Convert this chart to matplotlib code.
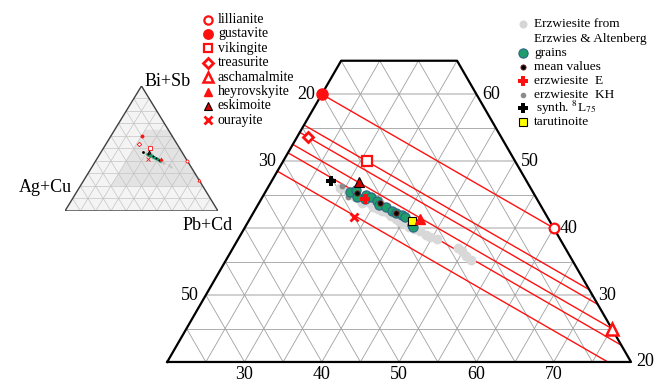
import numpy as np
import matplotlib.pyplot as plt

W, H = 658, 382
plt.rcParams['font.family'] = ['Liberation Serif', 'DejaVu Serif']
plt.rcParams['mathtext.fontset'] = 'stix'

# compositions in at.%: Bi+Sb and Pb+Cd (Ag+Cu is the remainder)
erz_bi = [46.0, 45.4, 45.0, 44.6, 43.8, 43.7, 44.0, 43.2, 42.8, 42.5, 42.2, 41.8,
          41.4, 41.0, 40.7, 40.2, 39.8, 39.5, 39.0, 38.7, 38.3, 37.1, 36.6, 35.9, 35.3]
erz_pb = [29.3, 30.7, 31.5, 32.0, 33.3, 34.4, 34.0, 35.0, 35.9, 36.5, 37.4, 38.0,
          38.9, 39.5, 40.3, 41.2, 42.0, 43.0, 44.0, 44.6, 45.8, 49.1, 49.8, 50.7, 51.6]

grain_bi = [45.4, 45.7, 44.6, 45.0, 44.3, 44.6, 44.0, 43.5, 43.1, 42.6, 42.3, 41.9, 41.6, 40.5, 40.1]
grain_pb = [30.9, 31.6, 32.2, 33.2, 33.5, 34.0, 35.1, 35.7, 36.7, 37.8, 38.5, 39.4, 40.0, 41.4, 41.8]

mean_bi = [45.3, 43.7, 42.3, 41.0]
mean_pb = [31.9, 35.7, 38.5, 41.0]

kh_bi = [46.3, 44.6, 45.3]
kh_pb = [29.5, 31.1, 31.3]

erzE_bi, erzE_pb = [44.4], [33.4]
synth_bi, synth_pb = [47.1], [27.7]
taru_bi, taru_pb = [41.1], [41.1]

mineral_names = ['lillianite', 'gustavite', 'vikingite', 'treasurite',
                 'aschamalmite', 'heyrovskyite', 'eskimoite', 'ourayite']
mineral_bi = [40.0, 60.0, 50.0, 53.6, 25.0, 41.4, 46.9, 41.7]
mineral_pb = [60.0, 20.0, 30.8, 21.4, 75.0, 42.0, 31.3, 33.3]

# Bi+Sb of the Pb-Bi end member of each homologue line
line_a0 = [40.0, 30.8, 28.6, 25.0, 22.5, 17.0]

left_ticks = [20, 30, 50]          # Ag+Cu
right_ticks = [20, 30, 40, 50, 60]  # Bi+Sb
bottom_ticks = [30, 40, 50, 60, 70]  # Pb+Cd

RED = '#ff1010'
styles = {
    'lillianite': dict(marker='o', mfc='white', mec=RED, ms=7, mew=1.6),
    'gustavite': dict(marker='o', mfc=RED, mec=RED, ms=8, mew=1),
    'vikingite': dict(marker='s', mfc='white', mec=RED, ms=6.5, mew=1.6),
    'treasurite': dict(marker='D', mfc='white', mec=RED, ms=5.5, mew=2),
    'aschamalmite': dict(marker='^', mfc='white', mec=RED, ms=8, mew=1.8),
    'heyrovskyite': dict(marker='^', mfc=RED, mec=RED, ms=7, mew=1),
    'eskimoite': dict(marker='^', mfc='#d00000', mec='black', ms=7, mew=0.8),
    'ourayite': dict(marker='x', mfc=RED, mec=RED, ms=6, mew=2),
}


def tern(bi, pb):
    bi = np.asarray(bi, float)
    pb = np.asarray(pb, float)
    return pb + bi / 2, bi * np.sqrt(3) / 2


fig = plt.figure(figsize=(W / 100, H / 100), dpi=100)
ax = fig.add_axes([0, 0, 1, 1])
ax.set_xlim(8.37, 93.49)
ax.set_ylim(14.73, 64.15)
ax.axis('off')

# grid
for a in range(25, 65, 5):
    x, y = tern([a, a], [20, 100 - a])
    if a % 10 == 0:
        ax.plot(x, y, color='#d0d0d0', lw=1.4, zorder=1)
    else:
        ax.plot(x, y, color='#a0a0a0', lw=0.6, zorder=1)
for c in range(25, 80, 5):
    top = min(65, 100 - c)
    x, y = tern([20, top], [c, c])
    ax.plot(x, y, color='#a0a0a0', lw=0.6, zorder=1)
for b in range(5, 60, 5):
    top = min(65, 80 - b)
    x, y = tern([20, top], [80 - b, 100 - top - b])
    ax.plot(x, y, color='#a0a0a0', lw=0.6, zorder=1)

# homologue lines
for a0 in line_a0:
    a1 = 40 + a0 / 2
    if a0 >= 20:
        x, y = tern([a1, a0], [20, 100 - a0])
    else:
        x, y = tern([a1, 20], [20, 60 + a0])
    ax.plot(x, y, color=RED, lw=1.0, zorder=2)

# outline
x, y = tern([20, 65, 65, 20, 20], [20, 20, 35, 80, 20])
ax.plot(x, y, color='black', lw=1.6, zorder=3, solid_capstyle='projecting')

# tick labels
for b in left_ticks:
    x, y = tern(80 - b, 20)
    ax.annotate(str(b), (x, y), xytext=(-5, 0), textcoords='offset points',
                ha='right', va='center', fontsize=13)
for a in right_ticks:
    x, y = tern(a, 100 - a)
    ax.annotate(str(a), (x, y), xytext=(4, 0), textcoords='offset points',
                ha='left', va='center', fontsize=13)
for c in bottom_ticks:
    x, y = tern(20, c)
    ax.annotate(str(c), (x, y), xytext=(0, -3), textcoords='offset points',
                ha='center', va='top', fontsize=13)

# data
x, y = tern(erz_bi, erz_pb)
ax.scatter(x, y, s=50, color='#d8d8d8', lw=0, zorder=4)
x, y = tern(kh_bi, kh_pb)
ax.scatter(x, y, s=18, color='#8a8a8a', lw=0, zorder=5)
x, y = tern(grain_bi, grain_pb)
ax.scatter(x, y, s=44, color='#1f9e6c', edgecolors='#2d6486', lw=0.8, zorder=5)
x, y = tern(mean_bi, mean_pb)
ax.scatter(x, y, s=14, color='black', edgecolors='#7a1a1a', lw=0.6, zorder=6)
x, y = tern(erzE_bi, erzE_pb)
ax.plot(x, y, marker='P', color=RED, ms=7, mew=0, ls='none', zorder=7)
x, y = tern(synth_bi, synth_pb)
ax.plot(x, y, marker='P', color='black', ms=7, mew=0, ls='none', zorder=7)
x, y = tern(taru_bi, taru_pb)
ax.plot(x, y, marker='s', mfc='#ffff00', mec='black', ms=5.5, mew=0.8, ls='none', zorder=8)

for name, bi, pb in zip(mineral_names, mineral_bi, mineral_pb):
    x, y = tern(bi, pb)
    ax.plot(x, y, ls='none', zorder=8, **styles[name])

# inset ternary
iax = fig.add_axes([65 / W, 1 - 211 / H, 153 / W, 125 / H])
iax.set_xlim(0, 100)
iax.set_ylim(0, 86.6)
iax.axis('off')
x, y = tern([0, 100, 0], [0, 0, 100])
iax.fill(x, y, color='#f4f4f4', lw=0, zorder=0)
x, y = tern([20, 65, 65, 20], [20, 20, 35, 80])
iax.fill(x, y, color='#e3e3e3', lw=0, zorder=1)
for v in range(10, 100, 10):
    x, y = tern([v, v], [0, 100 - v])
    iax.plot(x, y, color='#c4c4c4', lw=0.5, zorder=2)
    x, y = tern([0, 100 - v], [v, v])
    iax.plot(x, y, color='#c4c4c4', lw=0.5, zorder=2)
    x, y = tern([0, 100 - v], [100 - v, 0])
    iax.plot(x, y, color='#c4c4c4', lw=0.5, zorder=2)
x, y = tern([0, 100, 0, 0], [0, 0, 100, 0])
iax.plot(x, y, color='#404040', lw=1.0, zorder=3)
x, y = tern(erz_bi, erz_pb)
iax.scatter(x, y, s=3, color='#c8c8c8', lw=0, zorder=4)
x, y = tern(grain_bi, grain_pb)
iax.scatter(x, y, s=4, color='#1f9e6c', lw=0, zorder=5)
x, y = tern(mean_bi, mean_pb)
iax.scatter(x, y, s=2, color='black', lw=0, zorder=6)
x, y = tern(synth_bi, synth_pb)
iax.scatter(x, y, s=4, color='black', lw=0, zorder=6)
for name, bi, pb in zip(mineral_names, mineral_bi, mineral_pb):
    x, y = tern(bi, pb)
    st = dict(styles[name])
    st['ms'] = 2.2
    st['mew'] = 0.6
    iax.plot(x, y, ls='none', zorder=7, **st)

fig.text(145 / W, 1 - 81 / H, 'Bi+Sb', ha='left', va='center', fontsize=13)
fig.text(72 / W, 1 - 188 / H, 'Ag+Cu', ha='right', va='center', fontsize=13)
fig.text(183 / W, 1 - 225 / H, 'Pb+Cd', ha='left', va='center', fontsize=13)

# legends
lax = fig.add_axes([0, 0, 1, 1])
lax.set_xlim(0, W)
lax.set_ylim(H, 0)
lax.axis('off')
for i, name in enumerate(mineral_names):
    yy = 19.5 + 14.4 * i
    st = dict(styles[name])
    st['ms'] = st['ms'] * 0.85
    lax.plot([208], [yy], ls='none', **st)
    lax.text(218, yy, name, ha='left', va='center', fontsize=10)

rx, tx = 523, 534
lax.scatter([rx], [24], s=34, color='#d6d6d6', lw=0)
lax.text(tx, 24, 'Erzwiesite from', ha='left', va='center', fontsize=9.6)
lax.text(tx, 39, 'Erzwies & Altenberg', ha='left', va='center', fontsize=9.6)
lax.scatter([rx], [53], s=44, color='#1f9e6c', edgecolors='#2d6486', lw=0.8)
lax.text(tx, 53, 'grains', ha='left', va='center', fontsize=9.6)
lax.scatter([rx], [67], s=14, color='black', edgecolors='#7a1a1a', lw=0.6)
lax.text(tx, 67, 'mean values', ha='left', va='center', fontsize=9.6)
lax.plot([rx], [81], marker='P', color=RED, ms=7, mew=0, ls='none')
lax.text(tx, 81, 'erzwiesite  E', ha='left', va='center', fontsize=9.6)
lax.scatter([rx], [94.5], s=16, color='#8a8a8a', lw=0)
lax.text(tx, 94.5, 'erzwiesite  KH', ha='left', va='center', fontsize=9.6)
lax.plot([rx], [108], marker='P', color='black', ms=7, mew=0, ls='none')
lax.text(tx + 2, 108, r'synth. $^{8}$L$_{75}$', ha='left', va='center', fontsize=9.6)
lax.plot([rx], [122], marker='s', mfc='#ffff00', mec='black', ms=5.5, mew=0.8, ls='none')
lax.text(tx, 122, 'tarutinoite', ha='left', va='center', fontsize=9.6)

fig.savefig('out.png', dpi=100, facecolor='white')
